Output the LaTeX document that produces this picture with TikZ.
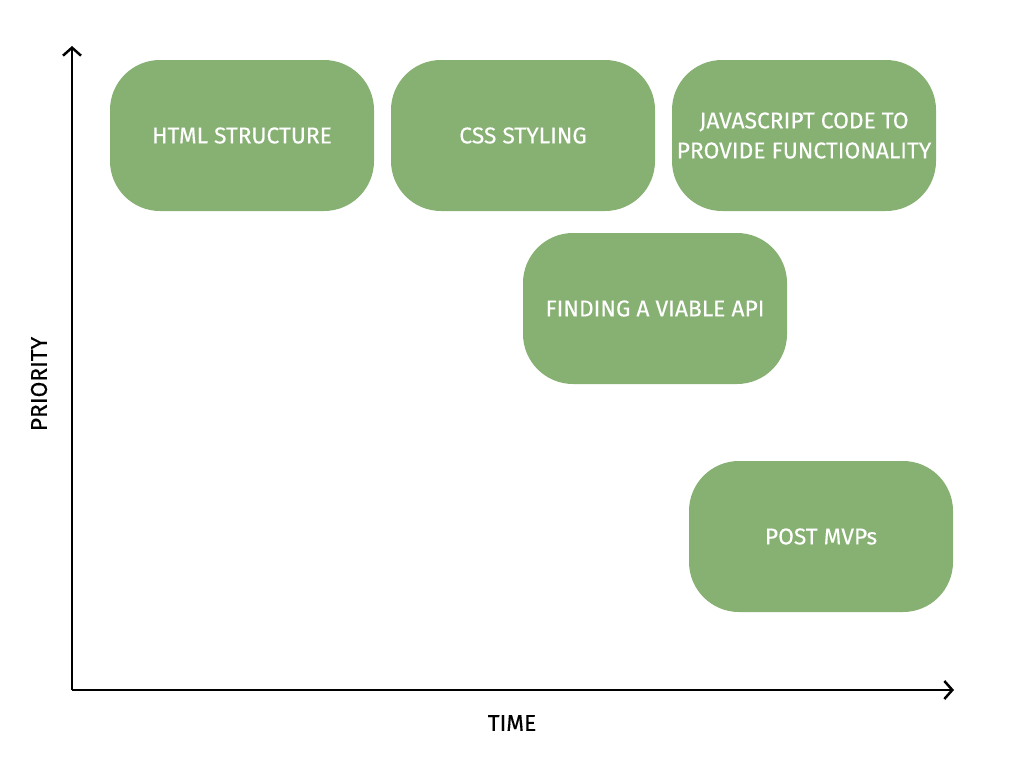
\documentclass[tikz,border=0pt]{standalone}
\usepackage{fontspec}
\setmainfont{Fira Sans}[FakeBold=0.3]
\usetikzlibrary{arrows.meta}
\definecolor{boxgreen}{RGB}{135,176,115}
\begin{document}
\begin{tikzpicture}[x=1pt,y=-1pt,
  task/.style={fill=boxgreen, draw=none, rounded corners=50pt, minimum width=264pt, minimum height=151pt, text=white, font=\fontsize{22.8}{30}\selectfont, align=center, inner sep=0pt},
  axis/.style={line width=2.5pt, -{Straight Barb[length=8pt,width=18pt,line width=2.5pt]}},
  axlabel/.style={text=black, font=\fontsize{22.8}{26}\selectfont, inner sep=0pt}]
\useasboundingbox (0,0) rectangle (1024,768);
\node[task] (html) at (242,135.5) {HTML STRUCTURE};
\node[task] (css) at (523,135.5) {CSS STYLING};
\node[task] (js) at (804,135.5) {JAVASCRIPT CODE TO\\PROVIDE FUNCTIONALITY};
\node[task] (api) at (655,308.5) {FINDING A VIABLE API};
\node[task] (post) at (821,536.5) {POST MVPs};
\coordinate (origin) at (72,690);
\coordinate (ytop) at (72,46);
\coordinate (xend) at (954,690);
\draw[axis] (origin) -- (ytop);
\draw[axis] (origin) -- (xend);
\node[axlabel, rotate=90] (prio) at (39,384) {PRIORITY};
\node[axlabel] (time) at (512,723) {TIME};
\end{tikzpicture}
\end{document}
